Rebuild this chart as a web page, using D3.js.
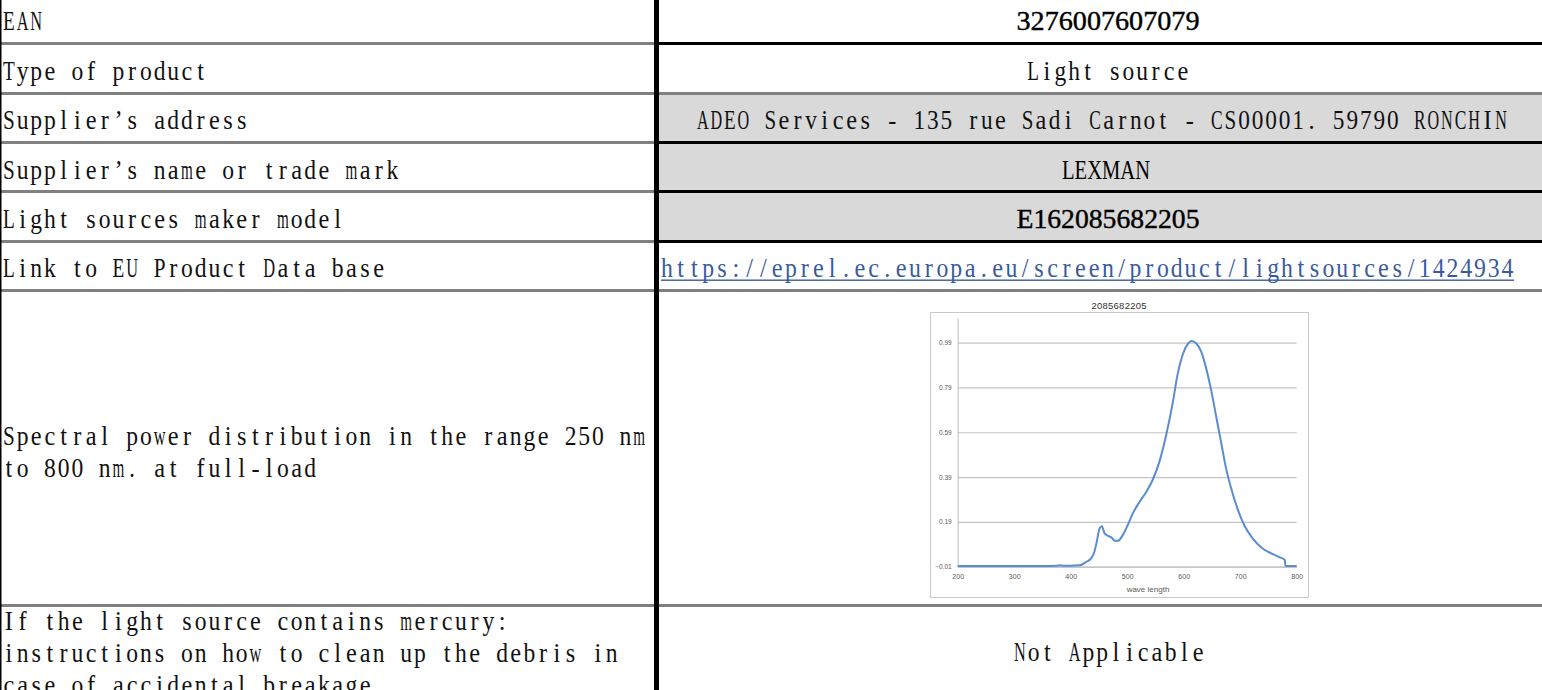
<!DOCTYPE html>
<html>
<head>
	<meta charset="utf-8">
	<title>Product information sheet</title>
	<style>
		body {
			margin: 0;
			background: #fff;
		}

		svg {
			display: block;
		}

		.cellfont {
			font-family: "Liberation Serif", "DejaVu Serif", serif;
			font-size: 27px;
			fill: #111;
			white-space: pre;
		}

		.serif {
			font-family: "Liberation Serif", serif;
			font-size: 27px;
			fill: #000;
			stroke: #000;
			stroke-width: 0.4px;
		}

		.link {
			fill: #3a5a9e;
		}

		.chart text {
			font-family: "Liberation Sans", "Open Sans", sans-serif;
			fill: #595959;
		}
	</style>
</head>
<body>
	<div id="sheet"></div>

	<script src="https://cdnjs.cloudflare.com/ajax/libs/d3/7.8.5/d3.min.js"></script>
	<script>
	// Table contents
	var fieldNames = [
		["EAN"],
		["Type of product"],
		["Supplier’s address"],
		["Supplier’s name or trade mark"],
		["Light sources maker model"],
		["Link to EU Product Data base"],
		["Spectral power distribution in the range 250 nm", "to 800 nm. at full-load"],
		["If the light source contains mercury:", "instructions on how to clean up the debris in", "case of accidental breakage"]
	]
	var fieldValues = [
		"3276007607079",
		"Light source",
		"ADEO Services - 135 rue Sadi Carnot - CS00001. 59790 RONCHIN",
		"LEXMAN",
		"E162085682205",
		"https://eprel.ec.europa.eu/screen/product/lightsources/1424934",
		null,
		"Not Applicable"
	]

	// Spectral power distribution
	var chartTitle = "2085682205"
	var waveLength = [200, 250, 300, 350, 375, 381, 387, 400, 416, 428, 436, 442, 446, 451, 455,
		460, 466, 472, 478, 484, 492, 501, 510, 522, 534, 545, 557, 569, 581, 589, 598, 607, 614,
		622, 631, 639, 648, 657, 666, 675, 684, 695, 707, 722, 739, 757, 770, 779, 780, 781, 800]
	var power = [-0.007, -0.007, -0.007, -0.007, -0.006, -0.003, -0.006, -0.006, -0.004, 0.012,
		0.027, 0.057, 0.10, 0.16, 0.17, 0.139, 0.128, 0.121, 0.106, 0.106, 0.131, 0.176, 0.228,
		0.28, 0.325, 0.377, 0.459, 0.578, 0.727, 0.846, 0.935, 0.983, 0.997, 0.987, 0.95, 0.883,
		0.786, 0.667, 0.548, 0.429, 0.34, 0.25, 0.176, 0.116, 0.072, 0.047, 0.032, 0.02, -0.005,
		-0.007, -0.007]
	var xTicks = [200, 300, 400, 500, 600, 700, 800]
	var yTicks = [-0.01, 0.19, 0.39, 0.59, 0.79, 0.99]

	// Layout
	var width = 1542,
		height = 690,
		splitLeft = 654,
		splitRight = 659,
		valueCenter = 1108,
		cellLeft = 13.7,
		lineHeight = 32,
		squeeze = 0.9,   // horizontal squeeze of every serif glyph
		maxFill = 0.86   // widest glyph may fill this share of its cell

	// top of each row, and the first baseline in it
	var rowTop = [0, 45, 95, 144, 193, 243, 292, 607]
	var rowBaseline = [30, 80, 129, 179, 228, 277, 445, 630]
	// separators below each row: [y, left colour, right colour]
	var separators = [
		[42, "#808080", "#000"],
		[92, "#808080", "#808080"],
		[141, "#808080", "#000"],
		[190, "#808080", "#000"],
		[240, "#808080", "#000"],
		[289, "#808080", "#808080"],
		[604, "#808080", "#808080"]
	]
	var shadedRows = [2, 3, 4]

	var svg = d3.select("#sheet").append("svg")
		.attr("width", width)
		.attr("height", height)

	// Shaded value cells
	shadedRows.forEach(function(i){
		svg.append("rect")
			.attr("x", splitRight).attr("y", rowTop[i])
			.attr("width", width - splitRight)
			.attr("height", separators[i][0] - rowTop[i])
			.attr("fill", "#d9d9d9")
	})

	// Row separators
	separators.forEach(function(s){
		svg.append("rect").attr("x", 0).attr("y", s[0])
			.attr("width", splitLeft).attr("height", 3).attr("fill", s[1])
		svg.append("rect").attr("x", splitRight).attr("y", s[0])
			.attr("width", width - splitRight).attr("height", 3).attr("fill", s[2])
	})

	// Column divider and left edge
	svg.append("rect").attr("x", splitLeft).attr("y", 0)
		.attr("width", splitRight - splitLeft).attr("height", height).attr("fill", "#000")
	svg.append("rect").attr("x", 0).attr("y", 0)
		.attr("width", 1.5).attr("height", height).attr("fill", "#000")

	// Fixed-pitch serif text: every glyph centred in its own cell,
	// wide glyphs squeezed so they stay inside it
	var measure = svg.append("text").attr("class", "cellfont").style("visibility", "hidden")
	var glyphWidths = {}
	var glyphWidth = function(ch){
		if(!(ch in glyphWidths)){
			measure.text(ch === " " ? "\u00a0" : ch)
			glyphWidths[ch] = measure.node().getComputedTextLength()
		}
		return glyphWidths[ch]
	}
	var cellText = function(str, x0, y, cell){
		var t = svg.append("text")
			.attr("class", "cellfont")
			.attr("y", y)
		str.split("").forEach(function(ch, i){
			var w = Math.min(glyphWidth(ch) * squeeze, cell * maxFill)
			var span = t.append("tspan")
				.attr("x", (x0 + i * cell + (cell - w) / 2).toFixed(2))
				.text(ch)
			if(ch !== " "){
				span.attr("textLength", w.toFixed(2))
					.attr("lengthAdjust", "spacingAndGlyphs")
			}
		})
		return t
	}

	// Field names
	fieldNames.forEach(function(lines, i){
		lines.forEach(function(line, j){
			cellText(line, 2, rowBaseline[i] + j * lineHeight, cellLeft)
		})
	})

	// Field values
	var serifValue = function(i, x, len){
		return svg.append("text")
			.attr("class", "serif")
			.attr("x", x)
			.attr("y", rowBaseline[i])
			.attr("text-anchor", "middle")
			.attr("textLength", len)
			.attr("lengthAdjust", "spacingAndGlyphs")
			.text(fieldValues[i])
	}

	serifValue(0, valueCenter, 183)
	cellText(fieldValues[1], valueCenter - 12 * 13.6 / 2, rowBaseline[1], 13.6)
	cellText(fieldValues[2], 696, rowBaseline[2], 13.53)
	serifValue(3, 1106, 88).style("stroke-width", 0)
	serifValue(4, valueCenter, 183)
	cellText(fieldValues[5], 660, rowBaseline[5], 13.78).classed("link", true)
	svg.append("rect").attr("x", 661).attr("y", rowBaseline[5] + 2.5)
		.attr("width", 853).attr("height", 1.4).attr("fill", "#3a5a9e")
	cellText(fieldValues[7], 1109 - 14 * 13.7 / 2, 661, 13.7)

	// Embedded spectrum chart
	var chart = svg.append("g").attr("class", "chart")

	chart.append("rect")
		.attr("x", 930.5).attr("y", 312.5)
		.attr("width", 378).attr("height", 285)
		.attr("fill", "#fff")
		.attr("stroke", "#c9c9c9")

	chart.append("text")
		.attr("x", 1119).attr("y", 308.5)
		.attr("text-anchor", "middle")
		.style("font-size", "9.5px")
		.style("fill", "#333")
		.attr("textLength", 55)
		.text(chartTitle)

	var x = d3.scaleLinear().domain([200, 800]).range([957.7, 1296.7])
	var y = d3.scaleLinear().domain([-0.01, 1.1]).range([566.7, 318])

	var yAxis = chart.append("g")
		.attr("transform", "translate(" + x(200) + ",0)")
		.call(d3.axisLeft(y)
			.tickValues(yTicks)
			.tickSize(-(x(800) - x(200)))
			.tickSizeOuter(0)
			.tickPadding(6)
			.tickFormat(d3.format(".2f")))
	yAxis.select(".domain").attr("stroke", "#bfbfbf")
	yAxis.selectAll(".tick line").attr("stroke", "#c4c4c4").attr("stroke-width", 1.2)
	yAxis.selectAll(".tick text").style("font-size", "6.5px")

	var xAxis = chart.append("g")
		.attr("transform", "translate(0," + y(-0.01) + ")")
		.call(d3.axisBottom(x)
			.tickValues(xTicks)
			.tickSize(0)
			.tickPadding(7))
	xAxis.select(".domain").attr("stroke", "#bfbfbf")
	xAxis.selectAll(".tick text").style("font-size", "7px")

	chart.append("text")
		.attr("x", 1148).attr("y", 592)
		.attr("text-anchor", "middle")
		.style("font-size", "8px")
		.text("wave length")

	var line = d3.line()
		.x(function(d, i){ return x(waveLength[i]) })
		.y(function(d){ return y(d) })
		.curve(d3.curveMonotoneX)

	chart.append("path")
		.datum(power)
		.attr("d", line)
		.attr("fill", "none")
		.attr("stroke", "#5a8ccf")
		.attr("stroke-width", 2)
		.attr("stroke-linejoin", "round")

	measure.remove()
	</script>
</body>
</html>
